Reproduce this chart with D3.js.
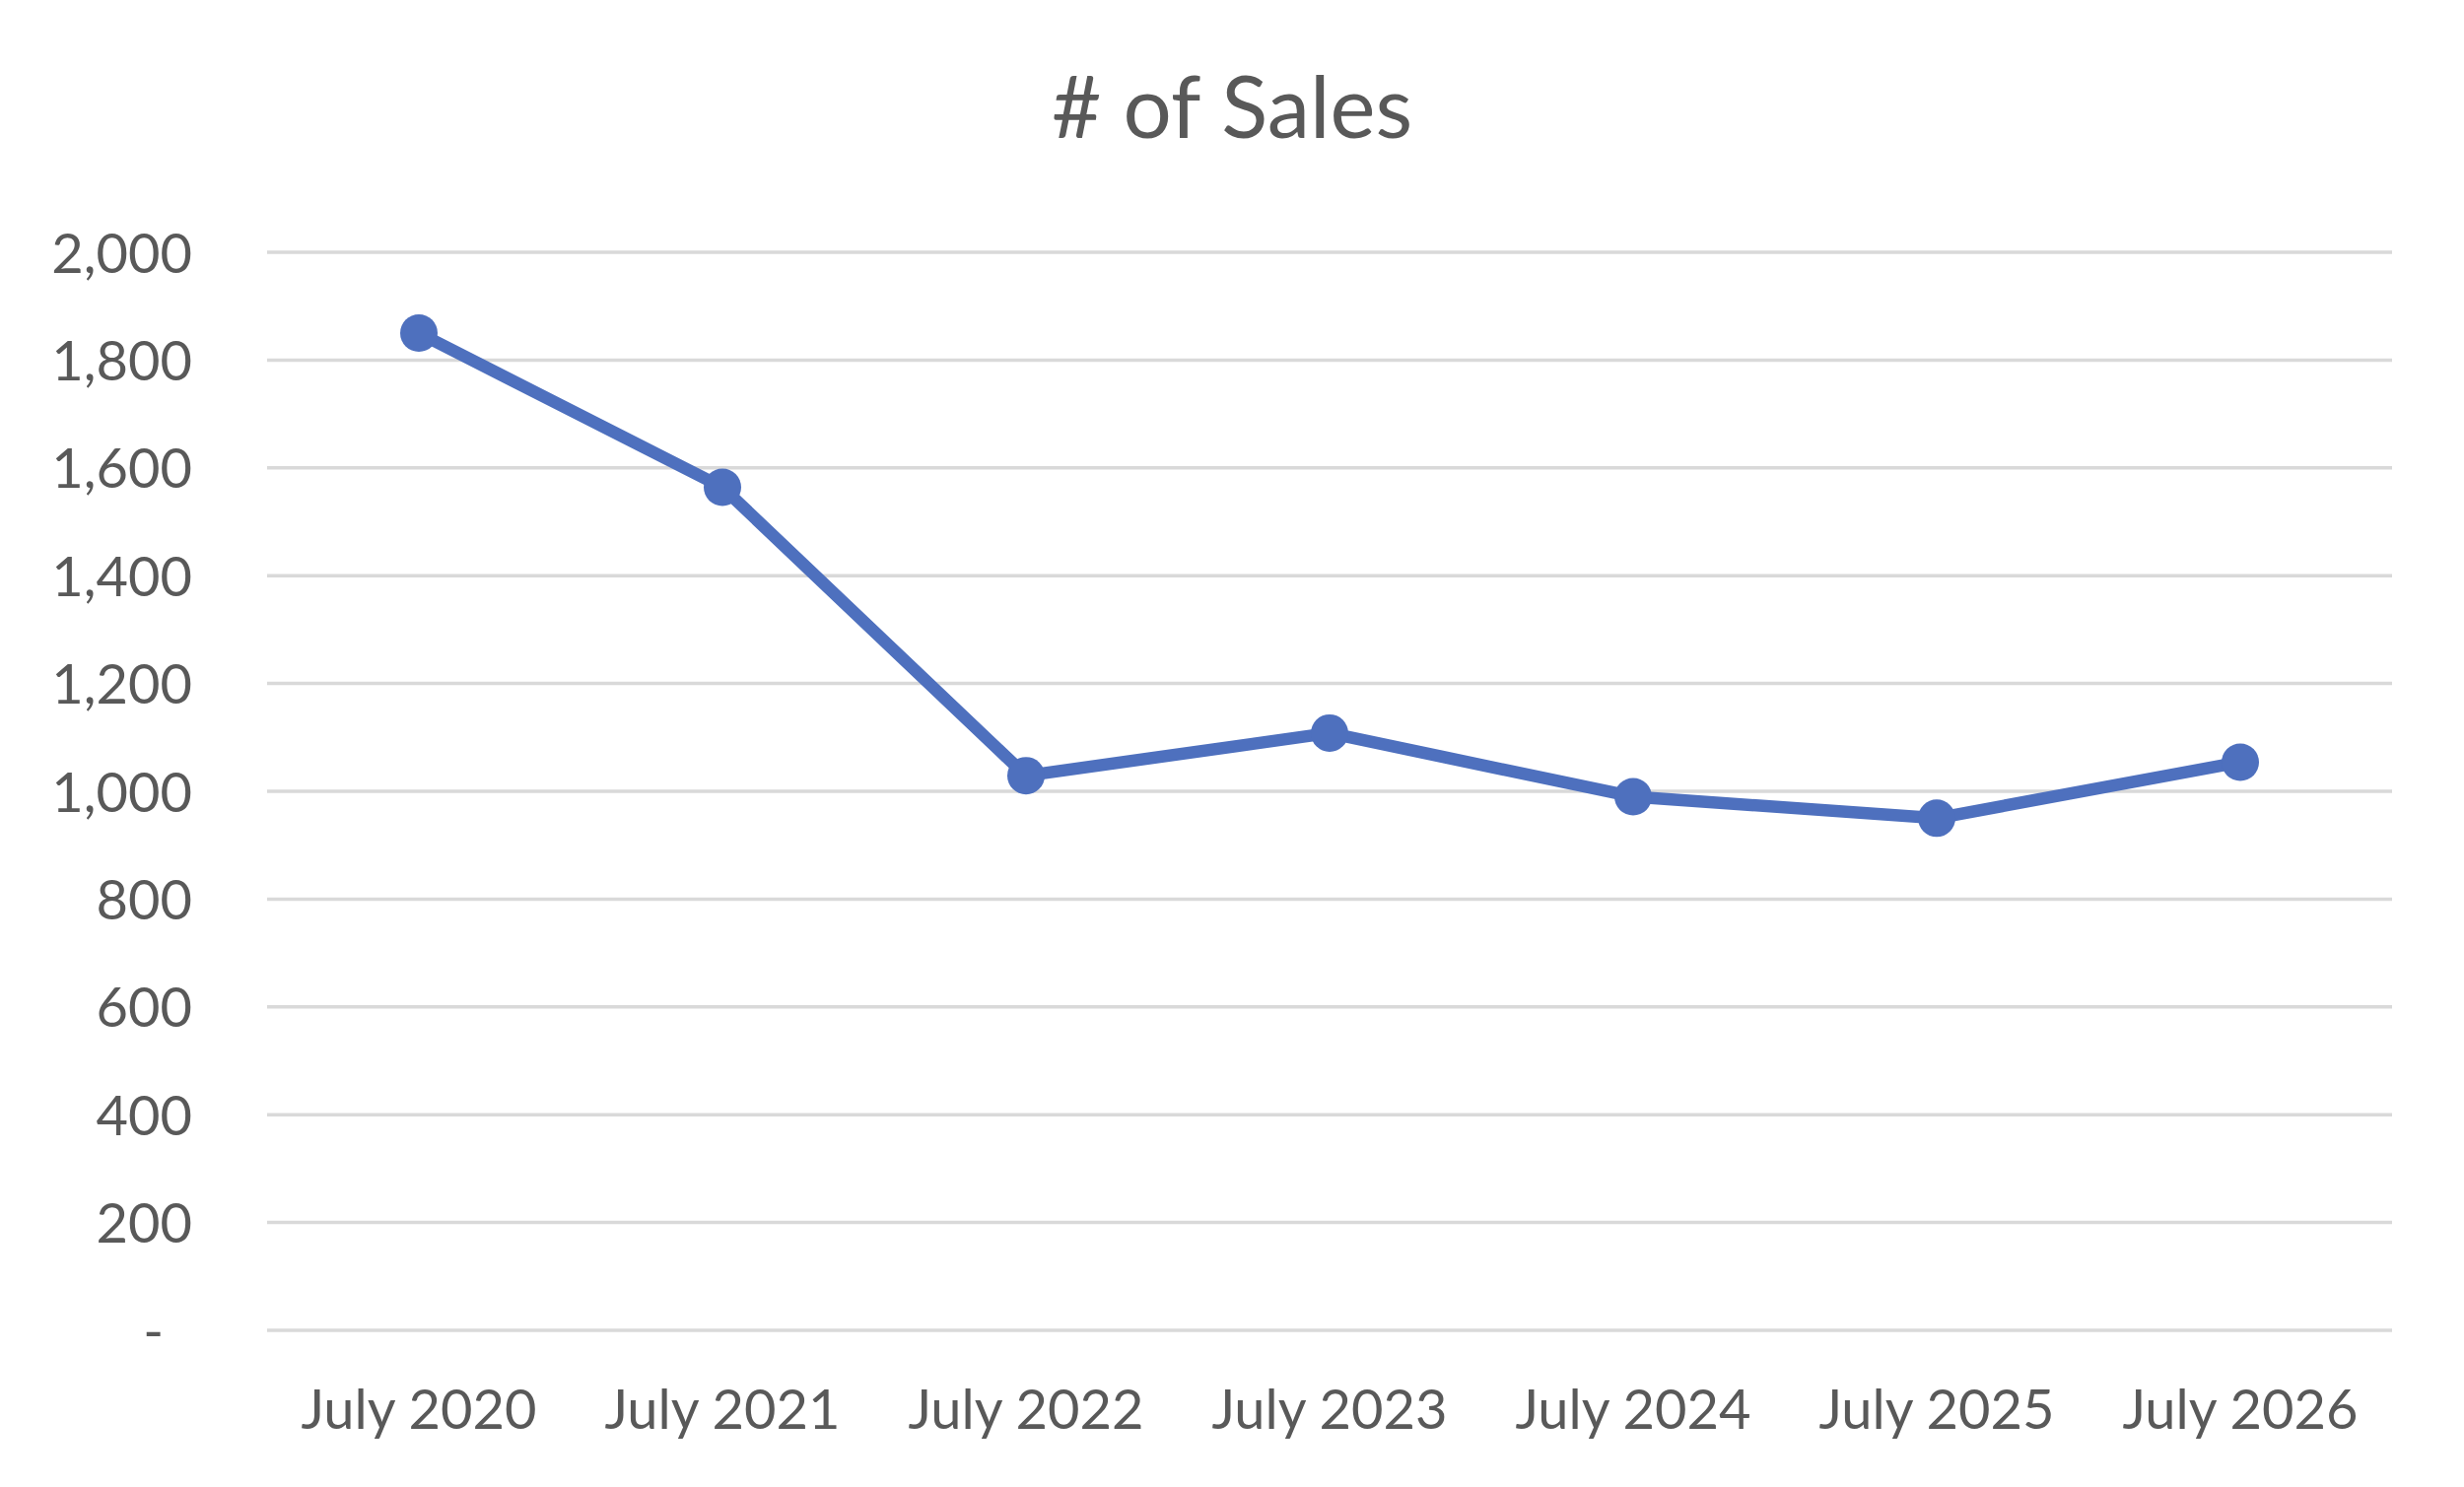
<!DOCTYPE html>
<html>
<head>
<meta charset="utf-8">
<script src="https://cdn.jsdelivr.net/npm/d3@7"></script>
<style>
  body { margin: 0; background: #fff; }
  svg text { font-family: Lato, "Open Sans", sans-serif; fill: #595959; }
</style>
</head>
<body>
<div id="chart"></div>
<script>
// data
var months = ["July 2020", "July 2021", "July 2022", "July 2023", "July 2024", "July 2025", "July 2026"];
var sales = [1850, 1564, 1029, 1108, 990, 950, 1054];
var yTicks = [0, 200, 400, 600, 800, 1000, 1200, 1400, 1600, 1800, 2000];
var title = "# of Sales";

var W = 2500, H = 1509;
// plot box (note: "top" is taken by window.top, so prefix these)
var plotLeft = 271, plotRight = 2427, plotTop = 256, plotBottom = 1350;
var blue = "#4E70BE";

var svg = d3.select("#chart").append("svg")
    .attr("width", W)
    .attr("height", H);

// scales
var x = d3.scaleBand().domain(months).range([plotLeft, plotRight]);
var y = d3.scaleLinear().domain([0, 2000]).range([plotBottom, plotTop]);

// title
svg.append("text")
    .attr("x", W / 2)
    .attr("y", 140)
    .attr("text-anchor", "middle")
    .style("font-size", "87px")
    .text(title);

// gridlines
svg.append("g")
    .selectAll("line")
    .data(yTicks)
    .enter()
    .append("line")
    .attr("x1", plotLeft)
    .attr("x2", plotRight)
    .attr("y1", function(d) { return y(d); })
    .attr("y2", function(d) { return y(d); })
    .style("stroke", "#d9d9d9")
    .style("stroke-width", 3.5);

// y axis labels
var fmt = d3.format(",");
var yaxis = d3.axisLeft(y)
    .tickValues(yTicks)
    .tickSize(0)
    .tickPadding(0)
    .tickFormat(function(d) { return d === 0 ? "-" : fmt(d); });

var gy = svg.append("g")
    .attr("transform", "translate(195,0)")
    .call(yaxis);
gy.select(".domain").remove();
gy.selectAll("text")
    .attr("dy", "0.36em")
    .style("font-size", "56px")
    .attr("x", function(d) { return d === 0 ? -29 : 0; });

// x axis labels
var xaxis = d3.axisBottom(x).tickSize(0).tickPadding(0);
var gx = svg.append("g")
    .attr("transform", "translate(0,1450)")
    .call(xaxis);
gx.select(".domain").remove();
gx.selectAll("text")
    .attr("dy", 0)
    .attr("y", 0)
    .style("font-size", "56px");

// line
var line = d3.line()
    .x(function(d, i) { return x(months[i]) + x.bandwidth() / 2; })
    .y(function(d) { return y(d); });

svg.append("path")
    .datum(sales)
    .attr("d", line)
    .style("fill", "none")
    .style("stroke", blue)
    .style("stroke-width", 12.5)
    .style("stroke-linejoin", "round");

svg.selectAll(".dot")
    .data(sales)
    .enter()
    .append("circle")
    .attr("class", "dot")
    .attr("cx", function(d, i) { return x(months[i]) + x.bandwidth() / 2; })
    .attr("cy", function(d) { return y(d); })
    .attr("r", 19)
    .style("fill", blue);
</script>
</body>
</html>
